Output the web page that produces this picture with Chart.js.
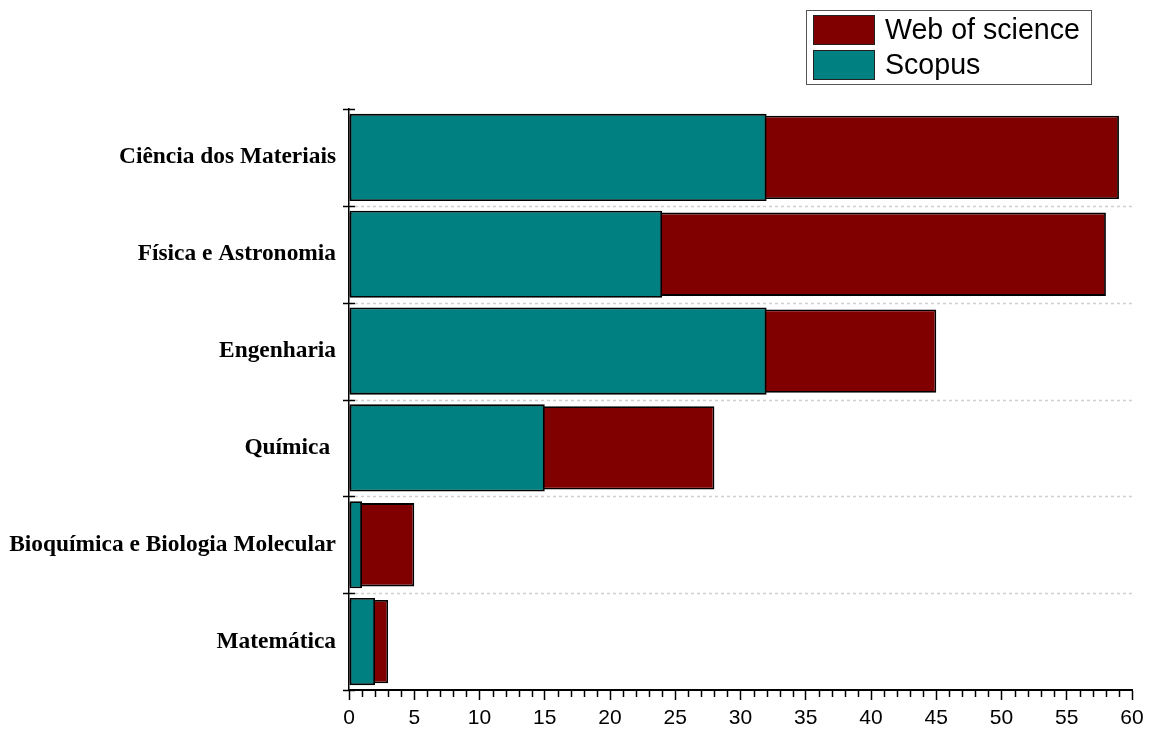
<!DOCTYPE html>
<html>
<head>
<meta charset="utf-8">
<script src="https://cdn.jsdelivr.net/npm/chart.js@4/dist/chart.umd.min.js"></script>
<style>
html,body{margin:0;padding:0;background:#fff;}
canvas{display:block;}
</style>
</head>
<body>
<canvas id="c" width="1151" height="731"></canvas>
<script>
const categories = ['Ciência dos Materiais', 'Física e Astronomia', 'Engenharia', 'Química ', 'Bioquímica e Biologia Molecular', 'Matemática'];
const webOfScience = [59, 58, 45, 28, 5, 3];
const scopus = [32, 24, 32, 15, 1, 2];
const seriesNames = ['Web of science', 'Scopus'];
const xMin = 0, xMax = 60, xMajorStep = 5, xMinorStep = 1;

const colWoS = '#800000';
const colScopus = '#008080';

const extras = {
  id: 'extras',
  beforeDatasetsDraw(chart) {
    const ctx = chart.ctx, y = chart.scales.y, a = chart.chartArea;
    const c0 = y.getPixelForValue(0), c1 = y.getPixelForValue(1);
    const half = (c1 - c0) / 2;
    ctx.save();
    ctx.strokeStyle = '#cfcfcf';
    ctx.lineWidth = 1.5;
    ctx.setLineDash([3, 3]);
    for (let k = 1; k < categories.length; k++) {
      const py = Math.round(c0 - half + 2 * half * k) + 0.5;
      ctx.beginPath();
      ctx.moveTo(a.left, py);
      ctx.lineTo(a.right, py);
      ctx.stroke();
    }
    ctx.restore();
  },
  afterDraw(chart) {
    const ctx = chart.ctx, x = chart.scales.x, y = chart.scales.y, a = chart.chartArea;
    ctx.save();
    ctx.strokeStyle = '#000';
    ctx.lineWidth = 1.5;
    // minor x ticks
    for (let v = xMin; v <= xMax; v += xMinorStep) {
      if (v % xMajorStep === 0) continue;
      const px = Math.round(x.getPixelForValue(v)) + 0.5;
      ctx.beginPath();
      ctx.moveTo(px, a.bottom);
      ctx.lineTo(px, a.bottom + 7);
      ctx.stroke();
    }
    // y category boundary ticks (crossing axis)
    const c0 = y.getPixelForValue(0), c1 = y.getPixelForValue(1);
    const half = (c1 - c0) / 2;
    for (let k = 0; k <= categories.length; k++) {
      const py = Math.round(c0 - half + 2 * half * k) + 0.5;
      ctx.beginPath();
      ctx.moveTo(a.left - 6, py);
      ctx.lineTo(a.left + 6, py);
      ctx.stroke();
    }
    // legend
    const lx = 806, ly = 10;
    ctx.lineWidth = 1;
    ctx.strokeStyle = '#555';
    ctx.strokeRect(lx + 0.5, ly + 0.5, 285, 74);
    const cols = [colWoS, colScopus];
    ctx.font = '28.6px "Liberation Sans", Arial, sans-serif';
    ctx.textBaseline = 'middle';
    ctx.textAlign = 'left';
    for (let i = 0; i < seriesNames.length; i++) {
      const ry = ly + 5 + i * 35;
      ctx.fillStyle = cols[i];
      ctx.fillRect(lx + 7, ry, 62, 30);
      ctx.strokeStyle = '#222';
      ctx.strokeRect(lx + 7.5, ry + 0.5, 61, 29);
      ctx.fillStyle = '#000';
      ctx.fillText(seriesNames[i], lx + 79, ry + 16);
    }
    ctx.restore();
  }
};

new Chart(document.getElementById('c'), {
  type: 'bar',
  data: {
    labels: categories,
    datasets: [
      {
        label: seriesNames[1],
        data: scopus,
        backgroundColor: colScopus,
        borderColor: '#000',
        borderWidth: 1.8,
        borderSkipped: false,
        grouped: false,
        barPercentage: 0.9,
        categoryPercentage: 1
      },
      {
        label: seriesNames[0],
        data: webOfScience,
        backgroundColor: colWoS,
        borderColor: '#000',
        borderWidth: 1.8,
        borderSkipped: false,
        grouped: false,
        barPercentage: 0.86,
        categoryPercentage: 1
      }
    ]
  },
  options: {
    indexAxis: 'y',
    responsive: false,
    animation: false,
    devicePixelRatio: 1,
    layout: { padding: { top: 109, right: 19, left: 0, bottom: 0 } },
    plugins: { legend: { display: false }, tooltip: { enabled: false } },
    scales: {
      x: {
        min: xMin,
        max: xMax,
        afterFit(s) { s.height = 41; },
        ticks: {
          stepSize: xMajorStep,
          color: '#000',
          font: { family: '"Liberation Sans", Arial, sans-serif', size: 21 },
          padding: 6,
          maxRotation: 0
        },
        grid: { drawOnChartArea: false, drawTicks: true, tickLength: 10, tickColor: '#000', tickWidth: 1.5 },
        border: { display: true, color: '#000', width: 2 }
      },
      y: {
        afterFit(s) { s.width = 349; },
        ticks: {
          color: '#000',
          font: { family: '"Liberation Serif", "Times New Roman", serif', size: 23.4, weight: 'bold' },
          padding: 13
        },
        grid: { display: false, drawTicks: false },
        border: { display: true, color: '#000', width: 1.5 }
      }
    }
  },
  plugins: [extras]
});
</script>
</body>
</html>
